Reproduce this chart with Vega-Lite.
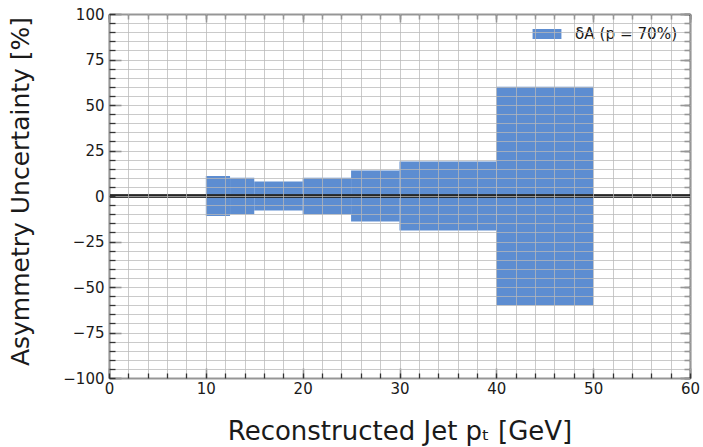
{
  "$schema": "https://vega.github.io/schema/vega-lite/v6.json",
  "width": 581,
  "height": 364,
  "autosize": {"type": "none"},
  "padding": {"left": 109, "top": 14, "right": 13, "bottom": 69},
  "background": "white",
  "config": {
    "font": "DejaVu Sans",
    "view": {"stroke": null},
    "axis": {
      "labelFont": "DejaVu Sans",
      "titleFont": "DejaVu Sans",
      "labelFontSize": 15,
      "labelColor": "#1a1a1a",
      "titleColor": "#1a1a1a",
      "titleFontWeight": "normal",
      "titleFontSize": 25,
      "domainColor": "#333333",
      "domainWidth": 1.6,
      "tickColor": "#333333",
      "tickWidth": 1.3,
      "gridColor": "#b8b8b8",
      "gridOpacity": 0.75,
      "gridWidth": 1
    },
    "legend": {
      "labelFont": "DejaVu Sans",
      "labelFontSize": 15.2,
      "labelColor": "#1a1a1a"
    }
  },
  "data": {
    "values": [
      {"pt_lo": 10, "pt_hi": 12.5, "down": -11, "up": 11},
      {"pt_lo": 12.5, "pt_hi": 15, "down": -10, "up": 10},
      {"pt_lo": 15, "pt_hi": 20, "down": -8, "up": 8},
      {"pt_lo": 20, "pt_hi": 25, "down": -10, "up": 10},
      {"pt_lo": 25, "pt_hi": 30, "down": -14, "up": 14},
      {"pt_lo": 30, "pt_hi": 40, "down": -19, "up": 19},
      {"pt_lo": 40, "pt_hi": 50, "down": -60, "up": 60}
    ]
  },
  "layer": [
    {
      "mark": {"type": "rect", "opacity": 0.95},
      "encoding": {
        "x": {
          "field": "pt_lo", "type": "quantitative",
          "scale": {"domain": [0, 60], "nice": false, "zero": false},
          "axis": {
            "orient": "bottom", "values": [0, 10, 20, 30, 40, 50, 60],
            "tickSize": -10, "labelPadding": 13, "grid": false,
            "title": "Reconstructed Jet pₜ [GeV]", "titleFontSize": 26, "titlePadding": 22,
            "labelFlush": false
          }
        },
        "x2": {"field": "pt_hi"},
        "y": {
          "field": "down", "type": "quantitative",
          "scale": {"domain": [-100, 100], "nice": false, "zero": false},
          "axis": {
            "orient": "left", "values": [-100, -75, -50, -25, 0, 25, 50, 75, 100],
            "tickSize": -12, "labelPadding": 17, "grid": false,
            "title": "Asymmetry Uncertainty [%]", "titlePadding": 29, "titleY": 177,
            "labelFlush": false
          }
        },
        "y2": {"field": "up"},
        "color": {
          "datum": "δA (p = 70%)",
          "scale": {"range": ["#5487cf"]},
          "legend": {
            "title": null,
            "orient": "none",
            "legendX": 424,
            "legendY": 6,
            "symbolType": "M-1.5,-0.52H1.5V0.52H-1.5Z",
            "symbolSize": 370,
            "symbolStrokeWidth": 0,
            "symbolOpacity": 0.95,
            "labelOffset": 18,
            "padding": 4
          }
        }
      }
    },
    {
      "mark": {"type": "rule", "color": "#262626", "strokeWidth": 2.5},
      "encoding": {
        "y": {"datum": 0, "type": "quantitative", "axis": null}
      }
    },
    {
      "mark": {"type": "point", "opacity": 0},
      "encoding": {
        "x": {
          "field": "pt_lo", "type": "quantitative",
          "axis": {
            "orient": "bottom",
            "values": [0,2,4,6,8,10,12,14,16,18,20,22,24,26,28,30,32,34,36,38,40,42,44,46,48,50,52,54,56,58,60],
            "tickSize": -5, "labels": false, "grid": true, "domain": false,
            "title": null, "zindex": 1
          }
        },
        "y": {
          "field": "up", "type": "quantitative",
          "axis": {
            "orient": "left",
            "values": [-100,-95,-90,-85,-80,-75,-70,-65,-60,-55,-50,-45,-40,-35,-30,-25,-20,-15,-10,-5,0,5,10,15,20,25,30,35,40,45,50,55,60,65,70,75,80,85,90,95,100],
            "tickSize": -6, "labels": false, "grid": true, "domain": false,
            "title": null, "zindex": 1
          }
        }
      }
    },
    {
      "mark": {"type": "point", "opacity": 0},
      "encoding": {
        "x": {
          "field": "pt_hi", "type": "quantitative",
          "axis": {
            "orient": "top", "values": [0, 10, 20, 30, 40, 50, 60],
            "tickSize": -8, "labels": false, "grid": false, "title": null
          }
        },
        "y": {
          "field": "down", "type": "quantitative",
          "axis": {
            "orient": "right", "values": [-100, -75, -50, -25, 0, 25, 50, 75, 100],
            "tickSize": -10, "labels": false, "grid": false, "title": null
          }
        }
      }
    },
    {
      "mark": {"type": "point", "opacity": 0},
      "encoding": {
        "x": {
          "field": "pt_lo", "type": "quantitative",
          "axis": {
            "orient": "top",
            "values": [0,2,4,6,8,10,12,14,16,18,20,22,24,26,28,30,32,34,36,38,40,42,44,46,48,50,52,54,56,58,60],
            "tickSize": -5, "labels": false, "grid": false, "domain": false, "title": null
          }
        },
        "y": {
          "field": "up", "type": "quantitative",
          "axis": {
            "orient": "right",
            "values": [-100,-95,-90,-85,-80,-75,-70,-65,-60,-55,-50,-45,-40,-35,-30,-25,-20,-15,-10,-5,0,5,10,15,20,25,30,35,40,45,50,55,60,65,70,75,80,85,90,95,100],
            "tickSize": -6, "labels": false, "grid": false, "domain": false, "title": null
          }
        }
      }
    }
  ],
  "resolve": {"axis": {"x": "independent", "y": "independent"}}
}
